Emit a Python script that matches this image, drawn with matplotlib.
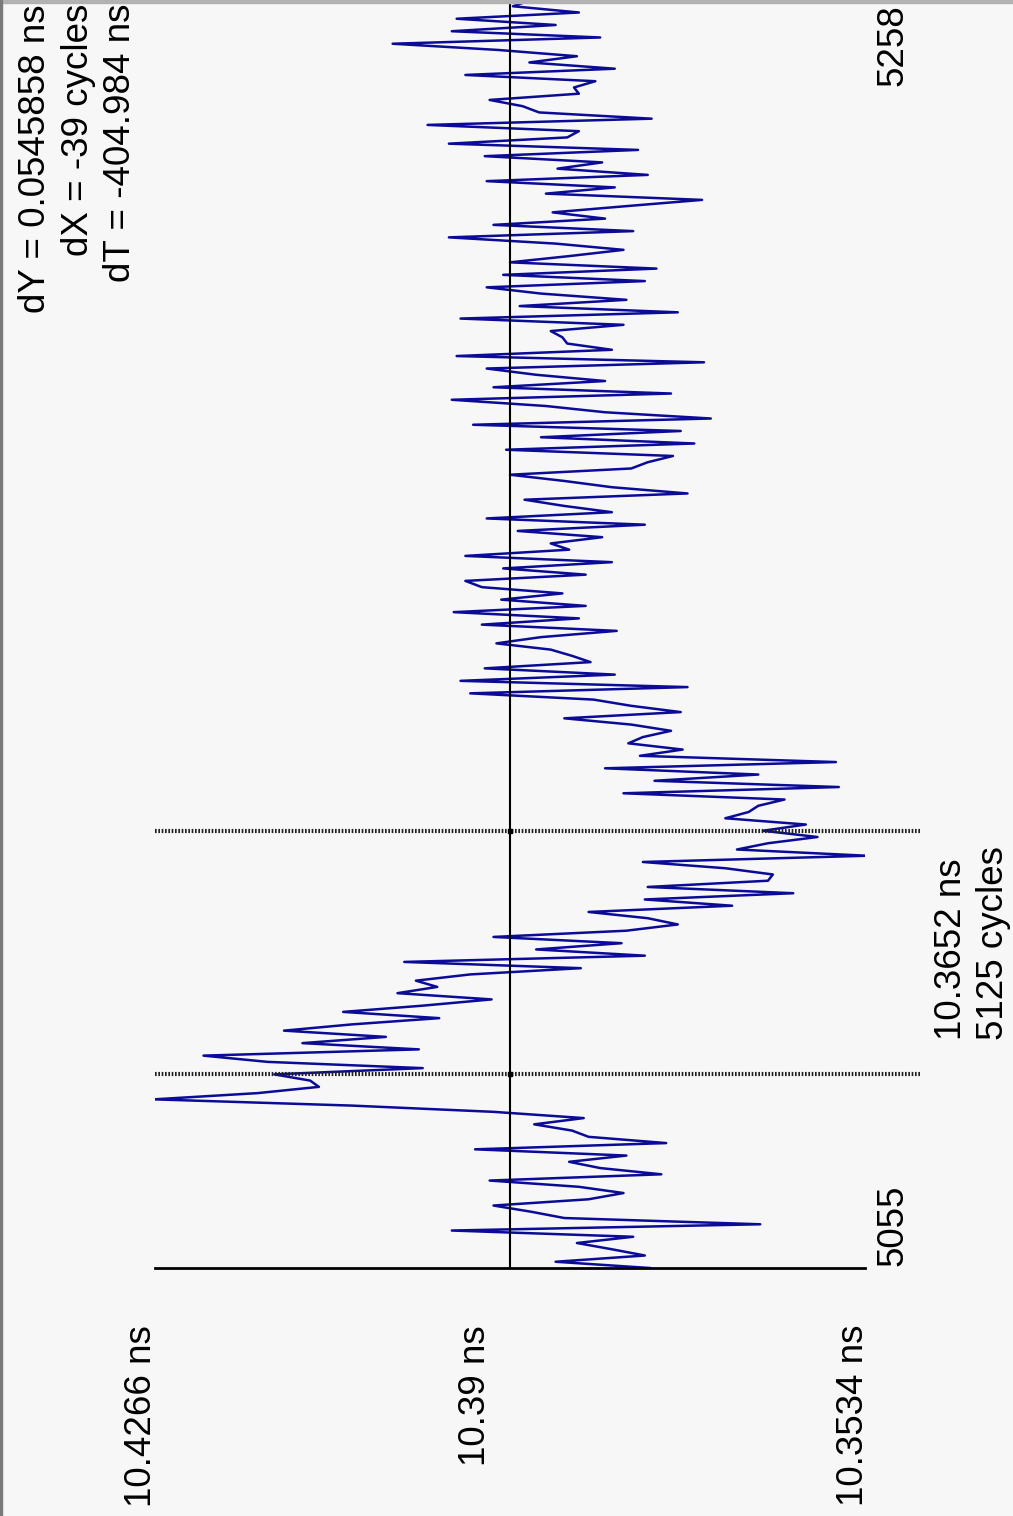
import numpy as np
import matplotlib
matplotlib.use("Agg")
import matplotlib.pyplot as plt
from matplotlib.patches import Rectangle

plt.rcParams['font.family'] = ['Liberation Sans', 'DejaVu Sans']

# measured interval (ns) for each cycle, starting at cycle 5055
start_cycle = 5055
values = [
    10.3756, 10.3853, 10.3761, 10.3795, 10.3831, 10.3773, 10.3960, 10.3642, 10.3844, 10.3878,
    10.3917, 10.3819, 10.3783, 10.3829, 10.3921, 10.3744, 10.3807, 10.3839, 10.3780, 10.3936,
    10.3739, 10.3819, 10.3836, 10.3875, 10.3824, 10.3917, 10.4063, 10.4267, 10.4160, 10.4097,
    10.4106, 10.4143, 10.3990, 10.4150, 10.4216, 10.3994, 10.4114, 10.4028, 10.4133, 10.4063,
    10.3973, 10.4072, 10.3990, 10.3919, 10.4016, 10.3975, 10.3997, 10.3941, 10.3827, 10.4009,
    10.3761, 10.3873, 10.3785, 10.3917, 10.3780, 10.3727, 10.3758, 10.3819, 10.3671, 10.3761,
    10.3608, 10.3758, 10.3634, 10.3629, 10.3678, 10.3763, 10.3532, 10.3666, 10.3634, 10.3583,
    10.3639, 10.3595, 10.3678, 10.3654, 10.3644, 10.3617, 10.3783, 10.3561, 10.3751, 10.3644,
    10.3802, 10.3564, 10.3766, 10.3722, 10.3778, 10.3763, 10.3734, 10.3775, 10.3844, 10.3724,
    10.3775, 10.3814, 10.3941, 10.3717, 10.3951, 10.3792, 10.3926, 10.3817, 10.3836, 10.3858,
    10.3914, 10.3868, 10.3790, 10.3929, 10.3829, 10.3958, 10.3822, 10.3909, 10.3846, 10.3929,
    10.3946, 10.3822, 10.3907, 10.3795, 10.3946, 10.3839, 10.3858, 10.3805, 10.3892, 10.3761,
    10.3924, 10.3795, 10.3844, 10.3885, 10.3717, 10.3795, 10.3844, 10.3900, 10.3775, 10.3758,
    10.3732, 10.3904, 10.3710, 10.3868, 10.3724, 10.3938, 10.3693, 10.3802, 10.3863, 10.3960,
    10.3734, 10.3917, 10.3802, 10.3873, 10.3924, 10.3700, 10.3955, 10.3795, 10.3841, 10.3846,
    10.3858, 10.3783, 10.3951, 10.3727, 10.3890, 10.3780, 10.3868, 10.3924, 10.3761, 10.3907,
    10.3749, 10.3900, 10.3839, 10.3783, 10.3853, 10.3963, 10.3773, 10.3917, 10.3802, 10.3856,
    10.3780, 10.3702, 10.3863, 10.3792, 10.3924, 10.3758, 10.3851, 10.3805, 10.3926, 10.3768,
    10.3963, 10.3841, 10.3829, 10.3985, 10.3754, 10.3870, 10.3887, 10.3921, 10.3829, 10.3834,
    10.3812, 10.3946, 10.3792, 10.3880, 10.3831, 10.3912, 10.4021, 10.3807, 10.3960, 10.3853,
    10.3955, 10.3829, 10.3897, 10.3878,
]
cycles = start_cycle + np.arange(len(values))

y_top, y_mid, y_bot = 10.4266, 10.39, 10.3534
x_first, x_last = 5055, 5258
cursor_cycles = [5086, 5125]

W, H = 1013, 1516
fig = plt.figure(figsize=(W / 100, H / 100), dpi=100, facecolor='#f7f7f7')


def fx(px):
    return px / W


def fy(py):
    return 1 - py / H


# rotated chart: value axis runs left->right, cycle axis runs bottom->top
ax = fig.add_axes([fx(155), fy(1268), fx(865) - fx(155), fy(0) - fy(1268)])
ax.set_facecolor('none')
ax.set_xlim(y_top, y_bot)
ax.set_ylim(x_first, x_last)
for s in ax.spines.values():
    s.set_visible(False)
ax.set_xticks([])
ax.set_yticks([])

ax.plot([0, 1], [x_first, x_first], color='black', lw=2.0,
        transform=ax.get_yaxis_transform(), clip_on=False, zorder=3)
ax.axvline(y_mid, color='black', lw=1.5, zorder=3)

ax.plot(values, cycles, color='#0b0b98', lw=1.8, zorder=2)

for c in cursor_cycles:
    ax.plot([0, 1.0775], [c, c], color='#202020', lw=3.0, linestyle=(0, (0.4, 0.4)),
            transform=ax.get_yaxis_transform(), clip_on=False, zorder=4)
    ax.plot([y_mid], [c], marker='s', ms=3.5, color='black', zorder=5)

fs = 26.5
txt = dict(rotation=90, fontsize=fs, color='black')

fig.text(fx(141), fy(1325), '10.4266 ns', ha='center', va='top', **txt)
fig.text(fx(475), fy(1325), '10.39 ns', ha='center', va='top', **txt)
fig.text(fx(853), fy(1325), '10.3534 ns', ha='center', va='top', **txt)

fig.text(fx(893), fy(1266), str(x_first), ha='center', va='bottom', **txt)
fig.text(fx(893), fy(4), str(x_last), ha='center', va='top', **txt)

fig.text(fx(951), fy(1040), '10.3652 ns', ha='center', va='bottom', **txt)
fig.text(fx(993), fy(1040), '5125 cycles', ha='center', va='bottom', **txt)

fig.text(fx(36), fy(4), 'dY = 0.0545858 ns', ha='center', va='top', **txt)
fig.text(fx(78), fy(4), 'dX = -39 cycles', ha='center', va='top', **txt)
fig.text(fx(120), fy(4), 'dT = -404.984 ns', ha='center', va='top', **txt)

# window borders
fig.patches.append(Rectangle((0, fy(3)), 1, 1 - fy(3), transform=fig.transFigure,
                             color='#b2b2b2', zorder=10))
fig.patches.append(Rectangle((0, 0), fx(2), 1, transform=fig.transFigure,
                             color='#7a7a7a', zorder=10))

fig.savefig('out.png', dpi=100, facecolor=fig.get_facecolor())
